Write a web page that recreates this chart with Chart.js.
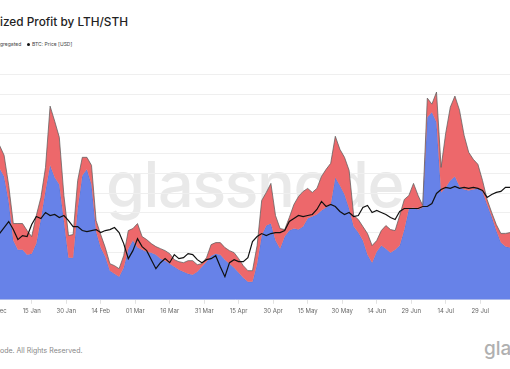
<!DOCTYPE html>
<html>
<head>
<meta charset="utf-8">
<script src="https://cdn.jsdelivr.net/npm/chart.js@4.4.1/dist/chart.umd.min.js"></script>
<style>
  body { margin: 0; background: #fff; }
  #wrap { position: relative; width: 510px; height: 369px; overflow: hidden; background: #fff; font-family: Inter, "Noto Sans", sans-serif; }
  #wrap div { position: absolute; white-space: pre; }
  #title { top: 16px; font-size: 11.8px; line-height: 12px; font-weight: 500; color: #222; }
  .leg { top: 41px; font-size: 5px; line-height: 6px; color: #444; }
  #legBtc { left: 27px; }
  #legBtc i { display: inline-block; width: 3px; height: 3px; border-radius: 50%; background: #111; margin-right: 2px; vertical-align: 0.2px; }
  #wm { left: 106px; top: 153px; font-size: 63px; line-height: 63px; font-weight: 500; color: #e9e9e9; letter-spacing: -1.5px; }
  #foot { top: 347px; font-size: 7px; line-height: 8px; color: #888; }
  #logo { left: 484px; top: 339px; font-size: 19px; line-height: 19px; font-weight: 500; color: #b0b0b0; }
  #box { position: absolute; left: -40px; top: 65px; }
</style>
</head>
<body>
<div id="wrap">
  <div id="title">Realized Profit by LTH/STH</div>
  <div id="legAgg" class="leg">Aggregated</div>
  <div id="legBtc" class="leg"><i></i>BTC: Price [USD]</div>
  <div id="wm">glassnode</div>
  <div id="box"><canvas id="ctx" width="550" height="254"></canvas></div>
  <div id="foot">© 2023 Glassnode. All Rights Reserved.</div>
  <div id="logo">glassnode</div>
</div>
<script>
// Data (2-day steps, day 0 = 31 Dec 2022)
const startDay = 1;
const stepDays = 2;

// LTH realized profit (blue), M USD
const lth = [655, 615, 490, 295, 250, 250, 225, 230, 280, 405,
  545, 670, 610, 575, 395, 210, 210, 455, 620, 650,
  575, 340, 260, 215, 145, 130, 115, 160, 255, 295,
  260, 250, 240, 235, 225, 205, 195, 180, 165, 150,
  140, 130, 125, 140, 165, 190, 220, 230, 225, 200,
  180, 160, 135, 110, 90, 90, 180, 320, 370, 380,
  295, 255, 315, 345, 355, 350, 365, 405, 415, 425,
  445, 460, 475, 610, 570, 525, 455, 365, 335, 295,
  225, 185, 240, 270, 255, 235, 250, 270, 350, 455,
  460, 450, 460, 910, 935, 885, 535, 560, 595, 615,
  565, 550, 545, 550, 555, 540, 475, 415, 345, 285,
  265, 260];

// STH realized profit (red), M USD
const sth = [115, 105, 80, 85, 130, 130, 120, 85, 140, 105,
  115, 295, 280, 235, 125, 110, 115, 140, 90, 60,
  95, 55, 65, 45, 35, 40, 40, 60, 90, 60,
  120, 65, 60, 45, 40, 50, 50, 50, 35, 40,
  45, 65, 70, 35, 15, 20, 55, 55, 60, 60,
  65, 75, 70, 60, 55, 55, 90, 175, 165, 200,
  125, 100, 35, 65, 120, 165, 175, 150, 120, 130,
  170, 190, 205, 205, 180, 185, 190, 55, 65, 70,
  105, 85, 55, 75, 115, 115, 95, 150, 150, 65,
  120, 70, 10, 95, 40, 150, 125, 270, 365, 400,
  380, 270, 190, 150, 120, 55, 25, 20, 30, 45,
  65, 75];

// BTC price, USD
const price = [20600, 21200, 21800, 21000, 20000, 20400, 20300, 21500, 22300, 22100,
  22700, 22400, 22500, 22200, 22400, 21900, 21300, 21300, 20900, 20800,
  20900, 21000, 20700, 20900, 21000, 21200, 20700, 19600, 18100, 18900,
  20100, 19300, 18900, 18000, 17100, 17700, 18100, 17700, 18500, 18100,
  18200, 18600, 18500, 18000, 17700, 18000, 18100, 18400, 17300, 16300,
  17700, 18000, 17800, 17800, 18200, 19800, 20300, 20600, 20400, 20600,
  20700, 20700, 20900, 21800, 22100, 22400, 22300, 22400, 22500, 23000,
  23800, 23300, 23500, 23300, 22800, 22500, 22700, 22300, 22400, 23200,
  23400, 22700, 22900, 22700, 22500, 22200, 22000, 22800, 23100, 23100,
  23100, 23100, 23300, 23300, 23600, 24600, 25000, 25200, 25100, 25300,
  25100, 25200, 25100, 25200, 25100, 24900, 24200, 24500, 24700, 24800,
  25200, 25200];

// x tick labels every 15 days
const tickDays = [0, 15, 30, 45, 60, 75, 90, 105, 120, 135, 150, 165, 180, 195, 210];
const months = ['Jan', 'Feb', 'Mar', 'Apr', 'May', 'Jun', 'Jul', 'Aug', 'Sep', 'Oct', 'Nov', 'Dec'];

const days = lth.map((_, i) => startDay + i * stepDays);
const pts = arr => arr.map((v, i) => ({ x: days[i], y: v }));
const total = lth.map((v, i) => v + sth[i]);

function dayLabel(v) {
  const d = new Date(Date.UTC(2022, 11, 31) + v * 864e5);
  return String(d.getUTCDate()).padStart(2, '0') + ' ' + months[d.getUTCMonth()];
}

// cropped texts: push the hidden part off the left edge
function cutLeft(id, hidden) {
  const el = document.getElementById(id);
  const m = document.createElement('span');
  m.style.cssText = 'position:absolute;visibility:hidden;white-space:pre';
  m.style.font = getComputedStyle(el).font;
  m.textContent = hidden;
  document.body.appendChild(m);
  el.style.left = -m.getBoundingClientRect().width + 'px';
  m.remove();
}
cutLeft('title', 'Real');
cutLeft('legAgg', 'Ag');
cutLeft('foot', '© 2023 Glassn');

Chart.defaults.font.family = 'Inter, "Noto Sans", sans-serif';

// canvas starts 40px left of the page, 2.3 px per day
const pxDay = 2.3;
new Chart(document.getElementById('ctx'), {
  type: 'line',
  data: {
    datasets: [{
      label: 'BTC: Price [USD]',
      data: pts(price),
      yAxisID: 'y1',
      borderColor: '#111',
      borderWidth: 1.2,
      pointRadius: 0,
      fill: false
    }, {
      label: 'Aggregated',
      data: pts(total),
      borderColor: 'rgba(95,95,95,0.75)',
      borderWidth: 1,
      pointRadius: 0,
      fill: '+1',
      backgroundColor: '#ed686b'
    }, {
      label: 'LTH',
      data: pts(lth),
      borderColor: 'rgba(85,100,170,0.6)',
      borderWidth: 0.8,
      pointRadius: 0,
      fill: 'origin',
      backgroundColor: '#6782e8'
    }]
  },
  options: {
    responsive: false,
    animation: false,
    layout: { padding: 0, autoPadding: false },
    plugins: { legend: { display: false }, tooltip: { enabled: false } },
    scales: {
      x: {
        type: 'linear',
        min: (-40 + 2.8) / pxDay,
        max: (510 + 2.8) / pxDay,
        afterBuildTicks: s => { s.ticks = tickDays.map(v => ({ value: v })); },
        ticks: { callback: v => dayLabel(v), font: { size: 6 }, color: '#666', padding: 4, maxRotation: 0, autoSkip: false },
        grid: { drawOnChartArea: false, tickLength: 4, color: '#e2e2e2' },
        border: { color: '#e2e4ee' }
      },
      y: {
        min: 0,
        max: 1170,
        afterBuildTicks: s => { s.ticks = Array.from({ length: 12 }, (_, j) => ({ value: 1121.5 - 98.35 * j })); },
        ticks: { display: false, autoSkip: false },
        grid: { drawTicks: false, color: '#efefef' },
        border: { display: false }
      },
      y1: { display: false, min: 14000, max: 37400 }
    }
  }
});
</script>
</body>
</html>
